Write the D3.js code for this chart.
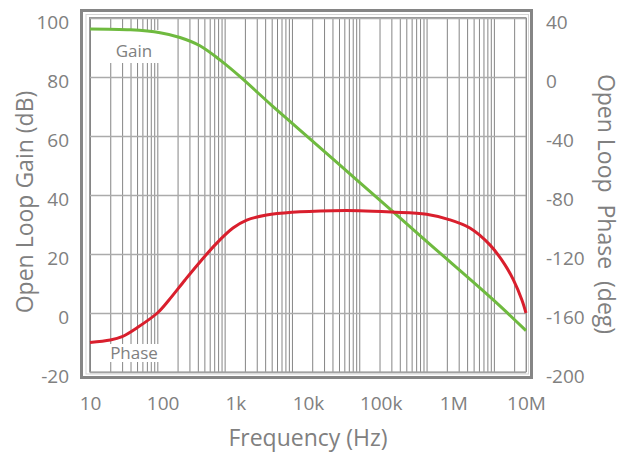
<!DOCTYPE html>
<html>
<head>
<meta charset="utf-8">
<script src="https://cdn.jsdelivr.net/npm/d3@7"></script>
<style>
  body { margin: 0; background: #fff; }
  svg text { font-family: "Open Sans", "Noto Sans", sans-serif; fill: #808080; }
</style>
</head>
<body>
<div id="chart"></div>
<script>
// frequency (Hz) / open loop gain (dB)
const gainFreq = [10, 40, 110, 217, 430, 850, 1680, 5e3, 1e4, 1e5, 1e6, 1e7, 3e7];
const gainDb = [96.3, 96, 95, 93.4, 90.6, 85.8, 80.2, 70.4, 64.4, 44.4, 24.3, 4.3, -6];

// frequency (Hz) / open loop phase (deg)
const phaseFreq = [10, 20, 30, 50, 100, 150, 258, 430, 764, 1330, 2130, 4200, 1e4, 4e4, 1e5,
                   3e5, 1e6, 2.1e6, 4.4e6, 8.8e6, 1.47e7, 1.95e7, 2.6e7, 3e7];
const phaseDeg = [-180, -178.3, -176, -170, -160, -151, -137.6, -125.4, -112.6, -102.4, -97, -93.6, -91.7, -90.6, -90.6,
                  -91.5, -93, -96.5, -102.4, -114, -127.5, -137.6, -151, -160];

const freqLabelValues = [10, 100, 1e3, 1e4, 1e5, 1e6, 1e7];
const freqLabels = ["10", "100", "1k", "10k", "100k", "1M", "10M"];
const gainTicks = [-20, 0, 20, 40, 60, 80, 100];
const phaseTicks = [-200, -160, -120, -80, -40, 0, 40];

const width = 634, height = 453;
const plotLeft = 90, plotRight = 526, plotTop = 18, plotBottom = 372;

const svg = d3.select("#chart").append("svg")
  .attr("width", width)
  .attr("height", height);

// grid scale runs past 10M to ~30M at the right border
const x = d3.scaleLog().domain([10, 3e7]).range([plotLeft, plotRight]);
// tick labels are spread over the full width as 10..10M
const xLabel = d3.scaleLog().domain([10, 1e7]).range([plotLeft, plotRight]);
const yGain = d3.scaleLinear().domain([-20, 100]).range([plotBottom, plotTop]);
const yPhase = d3.scaleLinear().domain([-200, 40]).range([plotBottom, plotTop]);

// outer frame
svg.append("rect")
  .attr("x", 81.5).attr("y", 10.5)
  .attr("width", 450).attr("height", 367)
  .attr("fill", "#fff")
  .attr("stroke", "#858585")
  .attr("stroke-width", 3);
svg.append("rect")
  .attr("x", 86).attr("y", 14.5)
  .attr("width", 442.5).attr("height", 359.5)
  .attr("fill", "none")
  .attr("stroke", "#d4d4d4")
  .attr("stroke-width", 1);

// vertical grid
const vgrid = svg.append("g")
  .attr("transform", `translate(0,${plotBottom})`)
  .call(d3.axisBottom(x).tickSize(-(plotBottom - plotTop)).tickFormat(""));
vgrid.select(".domain").remove();
vgrid.selectAll("line").attr("stroke", "#858585").attr("stroke-width", 1);

// horizontal grid
const hgrid = svg.append("g")
  .attr("transform", `translate(${plotLeft},0)`)
  .call(d3.axisLeft(yGain).tickValues(gainTicks).tickSize(-(plotRight - plotLeft)).tickFormat(""));
hgrid.select(".domain").remove();
hgrid.selectAll("line").attr("stroke", "#ababab").attr("stroke-width", 1.6);

// inner border
svg.append("rect")
  .attr("x", plotLeft - 0.5).attr("y", plotTop - 0.5)
  .attr("width", plotRight - plotLeft + 0.5).attr("height", plotBottom - plotTop + 0.5)
  .attr("fill", "none")
  .attr("stroke", "#9a9a9a")
  .attr("stroke-width", 1);

// curve labels on white boxes
svg.append("rect").attr("x", 108).attr("y", 30).attr("width", 53).attr("height", 33).attr("fill", "#fff");
svg.append("rect").attr("x", 108).attr("y", 344).attr("width", 53).attr("height", 18).attr("fill", "#fff");
svg.append("text").attr("x", 134).attr("y", 57).attr("text-anchor", "middle")
  .style("font-size", "17px").text("Gain");
svg.append("text").attr("x", 134).attr("y", 359).attr("text-anchor", "middle")
  .style("font-size", "17px").text("Phase");

// curves
const gainLine = d3.line()
  .x((d, i) => x(gainFreq[i]))
  .y(d => yGain(d))
  .curve(d3.curveCatmullRom.alpha(0.5));
const phaseLine = d3.line()
  .x((d, i) => x(phaseFreq[i]))
  .y(d => yPhase(d))
  .curve(d3.curveCatmullRom.alpha(0.5));

svg.append("path")
  .attr("d", gainLine(gainDb))
  .attr("fill", "none")
  .attr("stroke", "#6fba3f")
  .attr("stroke-width", 3);
svg.append("path")
  .attr("d", phaseLine(phaseDeg))
  .attr("fill", "none")
  .attr("stroke", "#d91f2d")
  .attr("stroke-width", 3);

// axes labels
const xAxis = svg.append("g")
  .attr("transform", `translate(0,${plotBottom})`)
  .call(d3.axisBottom(xLabel).tickValues(freqLabelValues)
    .tickFormat((d, i) => freqLabels[i]).tickSize(0).tickPadding(25));
const leftAxis = svg.append("g")
  .attr("transform", `translate(${plotLeft},0)`)
  .call(d3.axisLeft(yGain).tickValues(gainTicks).tickFormat(d => String(d))
    .tickSize(0).tickPadding(21));
const rightAxis = svg.append("g")
  .attr("transform", `translate(${plotRight},0)`)
  .call(d3.axisRight(yPhase).tickValues(phaseTicks).tickFormat(d => String(d))
    .tickSize(0).tickPadding(20));

[xAxis, leftAxis, rightAxis].forEach(g => {
  g.select(".domain").remove();
  g.selectAll("text")
    .attr("fill", "#808080")
    .style("font-family", '"Open Sans", sans-serif')
    .style("font-size", "19px");
});
leftAxis.selectAll("text").attr("dy", "0.54em");
rightAxis.selectAll("text").attr("dy", "0.54em");

// axis titles
svg.append("text")
  .attr("x", 308).attr("y", 446)
  .attr("text-anchor", "middle")
  .style("font-size", "23px")
  .text("Frequency (Hz)");
svg.append("text")
  .attr("transform", "translate(33,202) rotate(-90)")
  .attr("text-anchor", "middle")
  .style("font-size", "23px")
  .text("Open Loop Gain (dB)");
svg.append("text")
  .attr("transform", "translate(598,204) rotate(90)")
  .attr("text-anchor", "middle")
  .style("font-size", "23px")
  .style("white-space", "pre")
  .text("Open Loop  Phase  (deg)");
</script>
</body>
</html>
